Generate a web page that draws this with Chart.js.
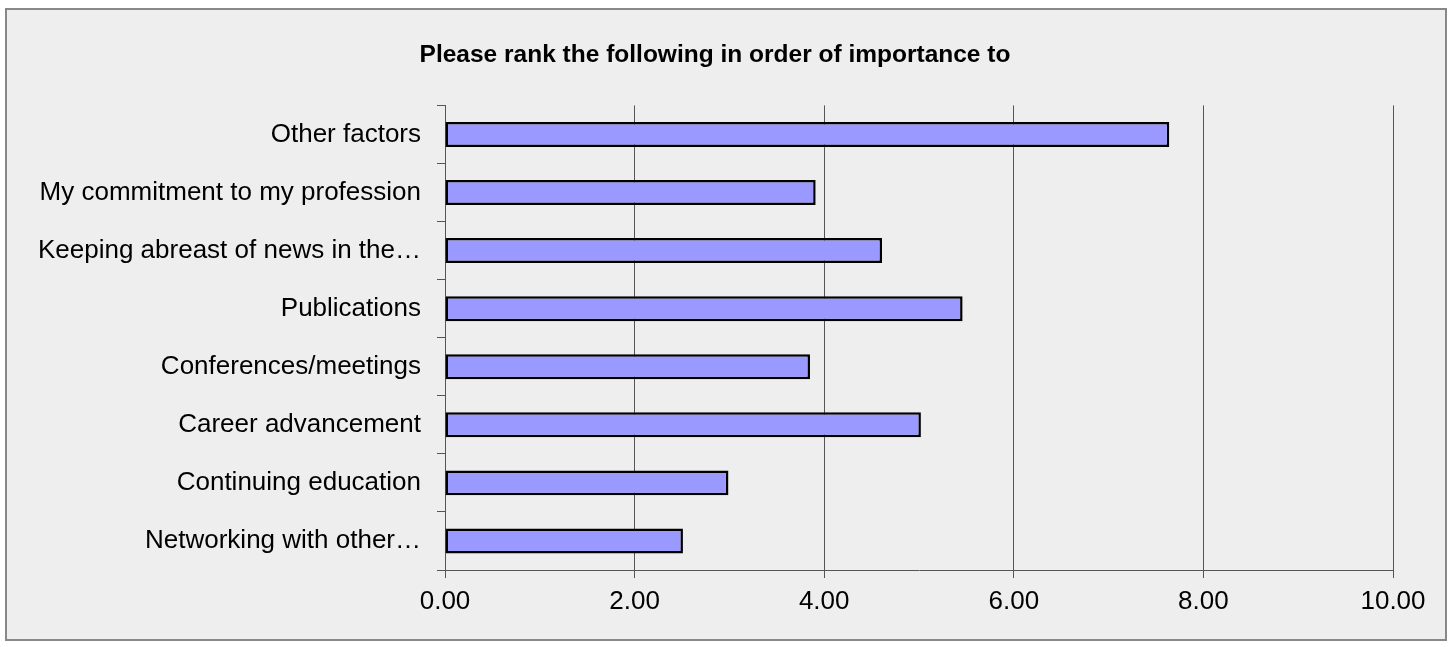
<!DOCTYPE html>
<html>
<head>
<meta charset="utf-8">
<script src="https://cdn.jsdelivr.net/npm/chart.js@4"></script>
<style>
  html, body { margin: 0; padding: 0; background: #ffffff; }
  #frame {
    position: absolute;
    left: 5px; top: 8px;
    width: 1442px; height: 633px;
    box-sizing: border-box;
    border: 2px solid #888888;
    background: #eeeeee;
  }
  #frame canvas { display: block; }
</style>
</head>
<body>
<div id="frame"><canvas id="rankChart" width="1438" height="629"></canvas></div>
<script>
// Categories, top to bottom
const categories = [
  'Other factors',
  'My commitment to my profession',
  'Keeping abreast of news in the\u2026',
  'Publications',
  'Conferences/meetings',
  'Career advancement',
  'Continuing education',
  'Networking with other\u2026'
];
// Average rank per item
const averages = [7.64, 3.91, 4.61, 5.46, 3.85, 5.02, 2.99, 2.51];
const xMin = 0;
const xMax = 10;
const xStep = 2;

const gridColor = '#555555';
const labelFont = { family: '"Liberation Sans", Arial, sans-serif', size: 26 };

const ctx = document.getElementById('rankChart').getContext('2d');
new Chart(ctx, {
  type: 'bar',
  data: {
    labels: categories,
    datasets: [{
      data: averages,
      backgroundColor: '#9999ff',
      borderColor: '#000000',
      borderWidth: 2.5,
      borderSkipped: false,
      barPercentage: 0.43,
      categoryPercentage: 1
    }]
  },
  options: {
    indexAxis: 'y',
    responsive: false,
    animation: false,
    layout: { padding: { left: 30, right: 52, top: 0, bottom: 0 } },
    plugins: {
      legend: { display: false },
      tooltip: { enabled: false },
      title: {
        display: true,
        text: 'Please rank the following in order of importance to',
        color: '#000000',
        font: { family: '"Liberation Sans", Arial, sans-serif', size: 24.5, weight: 'bold' },
        padding: { top: 31, bottom: 35 }
      }
    },
    scales: {
      x: {
        min: xMin,
        max: xMax,
        afterFit: scale => { scale.height = 69; },
        ticks: {
          stepSize: xStep,
          color: '#000000',
          font: labelFont,
          padding: 8,
          maxRotation: 0,
          callback: v => Number(v).toFixed(2)
        },
        grid: { color: gridColor, lineWidth: 1, tickLength: 8 },
        border: { color: gridColor, width: 1 }
      },
      y: {
        afterFit: scale => { scale.width = 408; },
        ticks: { color: '#000000', font: labelFont, padding: 16, autoSkip: false },
        grid: { drawOnChartArea: false, color: gridColor, tickLength: 8, offset: true },
        border: { color: gridColor, width: 1 }
      }
    }
  }
});
</script>
</body>
</html>
